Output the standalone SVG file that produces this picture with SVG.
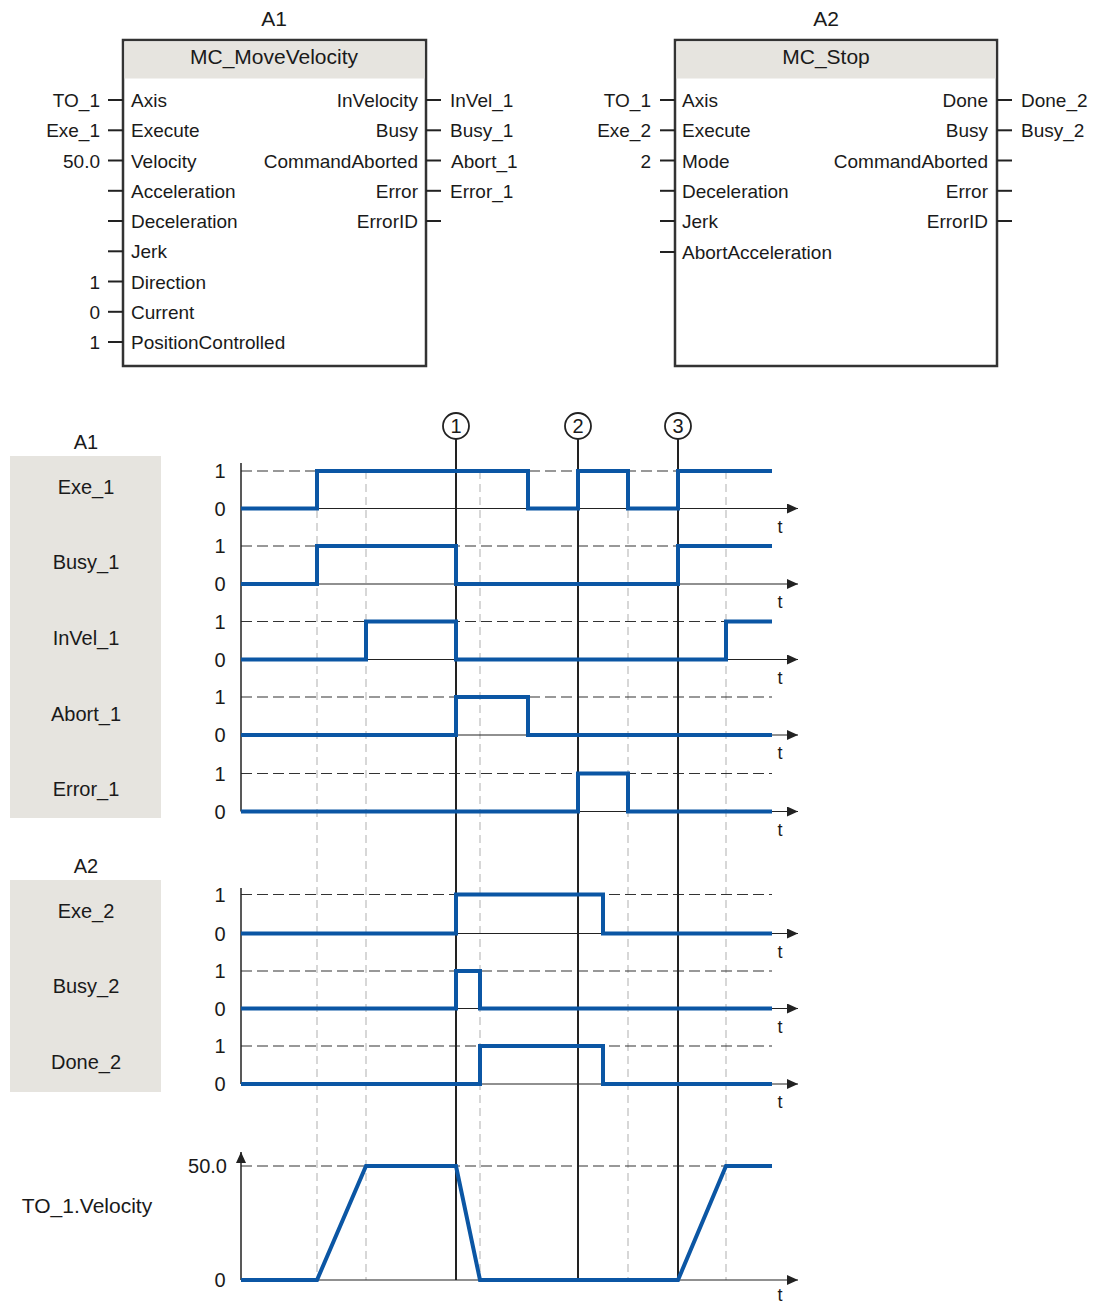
<svg xmlns="http://www.w3.org/2000/svg" width="1104" height="1304" viewBox="0 0 1104 1304">
<style>
text{font-family:"Liberation Sans",Arial,sans-serif;fill:#1a1a1a}
.t{font-size:21px}
.p{font-size:19px}
.m{text-anchor:middle}
.e{text-anchor:end}
.box{fill:#fff;stroke:#333;stroke-width:2.5}
.hdr{fill:#e6e4df}
.stub{stroke:#222;stroke-width:2}
.panel{fill:#e6e4df}
.lab{font-size:20px;text-anchor:middle}
.lv{font-size:20px;text-anchor:middle}
.lve{font-size:20px;text-anchor:end}
.tl{font-size:18px;text-anchor:middle}
.dash1{stroke:#333;stroke-width:1.2;stroke-dasharray:11 5;fill:none}
.grid{stroke:#bdbdbd;stroke-width:1.2;stroke-dasharray:8 5;fill:none}
.base{stroke:#222;stroke-width:1.2;fill:none}
.axis{stroke:#222;stroke-width:1.5;fill:none}
.mark{stroke:#222;stroke-width:2;fill:none}
.sig{stroke:#0b56a4;stroke-width:4;fill:none;stroke-linejoin:miter}
.circ{fill:#fff;stroke:#222;stroke-width:1.8}
</style>
<defs>
<marker id="arr" markerUnits="userSpaceOnUse" markerWidth="11" markerHeight="10" refX="11" refY="5" orient="auto"><path d="M0,0 L11,5 L0,10 z" fill="#222"/></marker>
</defs>

<g id="blockA1">
<text class="t m" x="274" y="26">A1</text>
<rect class="box" x="123" y="40" width="303" height="326"/>
<rect class="hdr" x="124.5" y="41.5" width="300" height="37"/>
<text class="t m" x="274" y="64">MC_MoveVelocity</text>
<g class="stub">
<line x1="108" y1="100" x2="123" y2="100"/><line x1="108" y1="130.3" x2="123" y2="130.3"/><line x1="108" y1="160.5" x2="123" y2="160.5"/><line x1="108" y1="190.8" x2="123" y2="190.8"/><line x1="108" y1="221" x2="123" y2="221"/><line x1="108" y1="251.3" x2="123" y2="251.3"/><line x1="108" y1="281.5" x2="123" y2="281.5"/><line x1="108" y1="311.8" x2="123" y2="311.8"/><line x1="108" y1="342" x2="123" y2="342"/>
<line x1="426" y1="100" x2="441" y2="100"/><line x1="426" y1="130.3" x2="441" y2="130.3"/><line x1="426" y1="160.5" x2="441" y2="160.5"/><line x1="426" y1="190.8" x2="441" y2="190.8"/><line x1="426" y1="221" x2="441" y2="221"/>
</g>
<g class="p">
<text class="e" x="100" y="107">TO_1</text><text class="e" x="100" y="137">Exe_1</text><text class="e" x="100" y="167.5">50.0</text><text class="e" x="100" y="288.5">1</text><text class="e" x="100" y="319">0</text><text class="e" x="100" y="349">1</text>
<text x="131" y="107">Axis</text><text x="131" y="137">Execute</text><text x="131" y="167.5">Velocity</text><text x="131" y="198">Acceleration</text><text x="131" y="228">Deceleration</text><text x="131" y="258">Jerk</text><text x="131" y="288.5">Direction</text><text x="131" y="319">Current</text><text x="131" y="349">PositionControlled</text>
<text class="e" x="418" y="107">InVelocity</text><text class="e" x="418" y="137">Busy</text><text class="e" x="418" y="167.5">CommandAborted</text><text class="e" x="418" y="198">Error</text><text class="e" x="418" y="228">ErrorID</text>
<text x="450" y="107">InVel_1</text><text x="450" y="137">Busy_1</text><text x="451" y="167.5">Abort_1</text><text x="450" y="198">Error_1</text>
</g>
</g>

<g id="blockA2">
<text class="t m" x="826" y="26">A2</text>
<rect class="box" x="675" y="40" width="322" height="326"/>
<rect class="hdr" x="676.5" y="41.5" width="319" height="37"/>
<text class="t m" x="826" y="64">MC_Stop</text>
<g class="stub">
<line x1="660" y1="100" x2="675" y2="100"/><line x1="660" y1="130.3" x2="675" y2="130.3"/><line x1="660" y1="160.5" x2="675" y2="160.5"/><line x1="660" y1="190.8" x2="675" y2="190.8"/><line x1="660" y1="221" x2="675" y2="221"/><line x1="660" y1="252" x2="675" y2="252"/>
<line x1="997" y1="100" x2="1012" y2="100"/><line x1="997" y1="130.3" x2="1012" y2="130.3"/><line x1="997" y1="160.5" x2="1012" y2="160.5"/><line x1="997" y1="190.8" x2="1012" y2="190.8"/><line x1="997" y1="221" x2="1012" y2="221"/>
</g>
<g class="p">
<text class="e" x="651" y="107">TO_1</text><text class="e" x="651" y="137">Exe_2</text><text class="e" x="651" y="167.5">2</text>
<text x="682" y="107">Axis</text><text x="682" y="137">Execute</text><text x="682" y="167.5">Mode</text><text x="682" y="198">Deceleration</text><text x="682" y="228">Jerk</text><text x="682" y="259">AbortAcceleration</text>
<text class="e" x="988" y="107">Done</text><text class="e" x="988" y="137">Busy</text><text class="e" x="988" y="167.5">CommandAborted</text><text class="e" x="988" y="198">Error</text><text class="e" x="988" y="228">ErrorID</text>
<text x="1021" y="107">Done_2</text><text x="1021" y="137">Busy_2</text>
</g>
</g>

<g id="timing">
<g id="labels">
<text class="lab" x="86" y="449">A1</text>
<rect class="panel" x="10" y="456" width="151" height="362"/>
<text class="lab" x="86" y="494">Exe_1</text>
<text class="lab" x="86" y="569">Busy_1</text>
<text class="lab" x="86" y="645">InVel_1</text>
<text class="lab" x="86" y="721">Abort_1</text>
<text class="lab" x="86" y="796">Error_1</text>
<text class="lab" x="86" y="873">A2</text>
<rect class="panel" x="10" y="880" width="151" height="212"/>
<text class="lab" x="86" y="918">Exe_2</text>
<text class="lab" x="86" y="993">Busy_2</text>
<text class="lab" x="86" y="1069">Done_2</text>
<text class="lab" x="87" y="1213" style="font-size:21px">TO_1.Velocity</text>
</g>

<g id="grid">
<line class="grid" x1="317" y1="471" x2="317" y2="1280"/>
<line class="grid" x1="366" y1="471" x2="366" y2="1280"/>
<line class="grid" x1="480" y1="471" x2="480" y2="1280"/>
<line class="grid" x1="628" y1="471" x2="628" y2="1280"/>
<line class="grid" x1="726" y1="471" x2="726" y2="1280"/>
</g>

<g id="levels">
<line class="dash1" x1="241" y1="471" x2="772" y2="471"/>
<line class="dash1" x1="241" y1="546" x2="772" y2="546"/>
<line class="dash1" x1="241" y1="621.5" x2="772" y2="621.5"/>
<line class="dash1" x1="241" y1="697" x2="772" y2="697"/>
<line class="dash1" x1="241" y1="773.5" x2="772" y2="773.5"/>
<line class="dash1" x1="241" y1="894.5" x2="772" y2="894.5"/>
<line class="dash1" x1="241" y1="971" x2="772" y2="971"/>
<line class="dash1" x1="241" y1="1046" x2="772" y2="1046"/>
<line class="dash1" x1="241" y1="1166" x2="772" y2="1166"/>
<line class="base" x1="241" y1="508.5" x2="798" y2="508.5" marker-end="url(#arr)"/>
<line class="base" x1="241" y1="584" x2="798" y2="584" marker-end="url(#arr)"/>
<line class="base" x1="241" y1="659.5" x2="798" y2="659.5" marker-end="url(#arr)"/>
<line class="base" x1="241" y1="735" x2="798" y2="735" marker-end="url(#arr)"/>
<line class="base" x1="241" y1="811.5" x2="798" y2="811.5" marker-end="url(#arr)"/>
<line class="base" x1="241" y1="933.5" x2="798" y2="933.5" marker-end="url(#arr)"/>
<line class="base" x1="241" y1="1008.5" x2="798" y2="1008.5" marker-end="url(#arr)"/>
<line class="base" x1="241" y1="1084" x2="798" y2="1084" marker-end="url(#arr)"/>
<line class="base" x1="241" y1="1280" x2="798" y2="1280" marker-end="url(#arr)"/>
<line class="axis" x1="241" y1="463" x2="241" y2="811.5"/>
<line class="axis" x1="241" y1="888" x2="241" y2="1084"/>
<line class="axis" x1="241" y1="1280" x2="241" y2="1152" marker-end="url(#arr)"/>
</g>

<g id="levelLabels">
<text class="lv" x="220" y="478">1</text><text class="lv" x="220" y="516">0</text>
<text class="lv" x="220" y="553">1</text><text class="lv" x="220" y="591">0</text>
<text class="lv" x="220" y="629">1</text><text class="lv" x="220" y="667">0</text>
<text class="lv" x="220" y="704">1</text><text class="lv" x="220" y="742">0</text>
<text class="lv" x="220" y="781">1</text><text class="lv" x="220" y="819">0</text>
<text class="lv" x="220" y="902">1</text><text class="lv" x="220" y="941">0</text>
<text class="lv" x="220" y="978">1</text><text class="lv" x="220" y="1016">0</text>
<text class="lv" x="220" y="1053">1</text><text class="lv" x="220" y="1091">0</text>
<text class="lve" x="227" y="1173">50.0</text><text class="lv" x="220" y="1287">0</text>
<text class="tl" x="780" y="533">t</text>
<text class="tl" x="780" y="608">t</text>
<text class="tl" x="780" y="684">t</text>
<text class="tl" x="780" y="759">t</text>
<text class="tl" x="780" y="836">t</text>
<text class="tl" x="780" y="958">t</text>
<text class="tl" x="780" y="1033">t</text>
<text class="tl" x="780" y="1108">t</text>
<text class="tl" x="780" y="1301">t</text>
</g>

<g id="markers">
<line class="mark" x1="456" y1="439" x2="456" y2="1280"/>
<line class="mark" x1="578" y1="439" x2="578" y2="1280"/>
<line class="mark" x1="678" y1="439" x2="678" y2="1280"/>
<circle class="circ" cx="456" cy="426" r="13"/>
<circle class="circ" cx="578" cy="426" r="13"/>
<circle class="circ" cx="678" cy="426" r="13"/>
<text class="lv" x="456" y="433">1</text>
<text class="lv" x="578" y="433">2</text>
<text class="lv" x="678" y="433">3</text>
</g>

<g id="signals">
<path class="sig" d="M241,508.5 H317 V471 H528 V508.5 H578 V471 H628 V508.5 H678 V471 H772"/>
<path class="sig" d="M241,584 H317 V546 H456 V584 H678 V546 H772"/>
<path class="sig" d="M241,659.5 H366 V621.5 H456 V659.5 H726 V621.5 H772"/>
<path class="sig" d="M241,735 H456 V697 H528 V735 H772"/>
<path class="sig" d="M241,811.5 H578 V773.5 H628 V811.5 H772"/>
<path class="sig" d="M241,933.5 H456 V894.5 H603 V933.5 H772"/>
<path class="sig" d="M241,1008.5 H456 V971 H480 V1008.5 H772"/>
<path class="sig" d="M241,1084 H480 V1046 H603 V1084 H772"/>
<path class="sig" d="M241,1280 H317 L366,1166 H456 L480,1280 H678 L726,1166 H772"/>
</g>
</g>
</svg>
